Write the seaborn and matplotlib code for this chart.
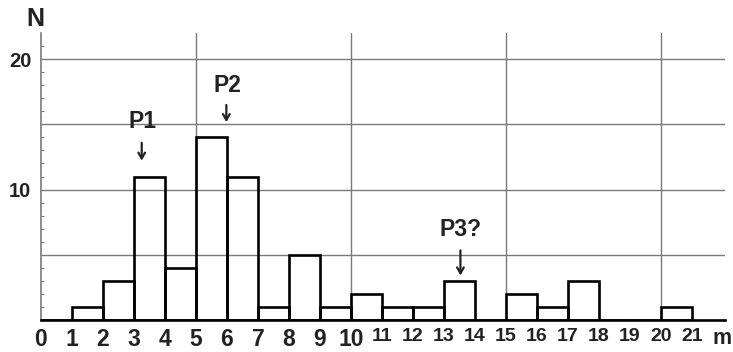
"""
plot.py
Histogram of counts N per 1 m class, with the three marked peaks P1, P2, P3?.
"""
import matplotlib
matplotlib.use("Agg")
import matplotlib.pyplot as plt
import numpy as np
import seaborn as sns

# data
bin_edges = list(range(0, 22))                  # class limits 0..21 m
counts = [0, 1, 3, 11, 4, 14, 11, 1, 5, 1, 2, 1, 1, 3, 0, 2, 1, 3, 0, 0, 1]
x_labels = [str(v) for v in range(0, 22)]
y_labels = ["", "10", "", "20"]
peak_names = ["P1", "P2", "P3?"]
peak_x = [3.27, 6.0, 13.55]

sns.set_theme(style="white")
plt.rcParams["font.family"] = ["Liberation Sans", "DejaVu Sans"]

GRID = "#7a7a7a"
INK = "#222222"

fig = plt.figure(figsize=(7.33, 3.52), dpi=100)
ax = fig.add_axes([0.0559, 0.0909, 0.933, 0.8153])

centers = [e + 0.5 for e in bin_edges[:-1]]
sns.histplot(x=centers, weights=counts, bins=bin_edges, fill=False,
             element="bars", color="black", linewidth=1.9, ax=ax, zorder=3)

ax.set_xlim(0, 22.06)
ax.set_ylim(0, 22)

# grid: horizontal every 5, vertical every 5 m
for v in [5, 10, 15, 20]:
    ax.axhline(v, color=GRID, lw=1.0, zorder=1)
    ax.axvline(v, color=GRID, lw=1.0, zorder=1)

ax.set_xticks(range(0, 22))
ax.set_xticklabels(x_labels)
for i, lab in enumerate(ax.get_xticklabels()):
    lab.set_fontsize(16.5 if i <= 10 else 14)
    lab.set_fontweight("bold")
    lab.set_color(INK)
ax.tick_params(axis="x", length=0, pad=6)

ax.set_yticks([5, 10, 15, 20])
ax.set_yticklabels(y_labels, fontsize=14.5, fontweight="bold", color=INK)
ax.set_yticks(np.arange(1, 22), minor=True)
ax.tick_params(axis="y", which="major", length=0, pad=7)
ax.tick_params(axis="y", which="minor", left=True, direction="in",
               length=2.5, width=0.8, color=GRID)

ax.set_xlabel("")
ax.set_ylabel("")

for s in ["top", "right"]:
    ax.spines[s].set_visible(False)
ax.spines["left"].set_color(GRID)
ax.spines["left"].set_linewidth(1.2)
ax.spines["bottom"].set_color("black")
ax.spines["bottom"].set_linewidth(1.9)
ax.spines["bottom"].set_zorder(4)

# peak labels with arrows
label_y = [15.2, 18.0, 6.9]
arrow_top = [13.8, 16.7, 5.55]
arrow_tip = [12.0, 14.95, 3.2]
for name, px, ly, at, tip in zip(peak_names, peak_x, label_y, arrow_top, arrow_tip):
    ax.text(px, ly, name, ha="center", va="center", fontsize=16.5,
            fontweight="bold", color=INK, zorder=5)
    ax.annotate("", xy=(px - 0.02, tip), xytext=(px - 0.02, at),
                arrowprops=dict(arrowstyle="->,head_length=0.35,head_width=0.2",
                                lw=1.6, color=INK), zorder=5)

fig.text(35 / 733, 1 - 19 / 352, "N", ha="center", va="center",
         fontsize=18, fontweight="bold", color=INK)
fig.text(722 / 733, 1 - 338 / 352, "m", ha="center", va="center",
         fontsize=15.5, fontweight="bold", color=INK)

fig.savefig("out.png", dpi=100)
